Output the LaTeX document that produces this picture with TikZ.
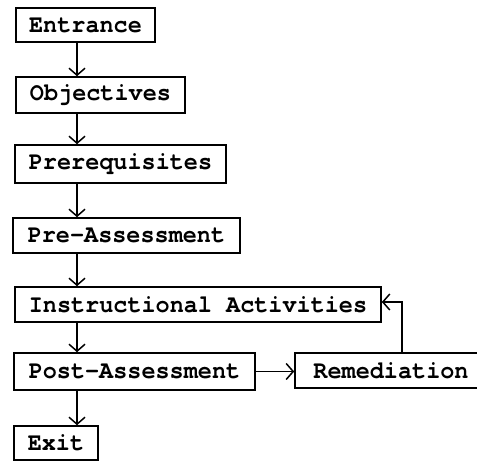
\documentclass[tikz,border=0pt]{standalone}
\usepackage{fontspec}
\setmonofont[FakeStretch=0.94]{TeX Gyre Cursor}
\usetikzlibrary{arrows.meta}
\tikzset{
  box/.style={draw, line width=1.6pt, inner sep=0pt, font=\fontsize{25}{28}\selectfont\ttfamily\bfseries},
  flow/.style={line width=1.5pt, -{Straight Barb[length=7pt, width=16pt, line width=1.5pt]}}
}
\begin{document}
\begin{tikzpicture}[x=1pt, y=-1pt]
  \clip (0,0) rectangle (477,462);
  \fill[white] (0,0) rectangle (477,462);
  % flow-chart steps (centres and sizes in points, y grows downward)
  \node[box, minimum width=139pt, minimum height=34pt] (entr) at (85.5,25) {Entrance};
  \node[box, minimum width=169pt, minimum height=36pt] (obj)  at (100.5,95) {Objectives};
  \node[box, minimum width=211pt, minimum height=38pt] (pre)  at (120.5,164) {Prerequisites};
  \node[box, minimum width=227pt, minimum height=35pt] (pas)  at (126.5,235.5) {Pre-Assessment};
  \node[box, minimum width=366pt, minimum height=35pt] (ins)  at (198,304.5) {Instructional Activities};
  \node[box, minimum width=241pt, minimum height=37pt] (post) at (134.5,371.5) {Post-Assessment};
  \node[box, minimum width=192pt, minimum height=35pt] (rem)  at (391,370.5) {Remediation};
  \node[box, minimum width=84pt,  minimum height=34pt] (exit) at (56,443) {Exit};
  % main spine of the chart
  \coordinate (spine) at (77,0);
  \draw[flow] (entr.south -| spine) -- (obj.north -| spine);
  \draw[flow] (obj.south -| spine)  -- (pre.north -| spine);
  \draw[flow] (pre.south -| spine)  -- (pas.north -| spine);
  \draw[flow] (pas.south -| spine)  -- (ins.north -| spine);
  \draw[flow] (ins.south -| spine)  -- (post.north -| spine);
  \draw[flow] (post.south -| spine) -- (exit.north -| spine);
  % remediation loop
  \draw[flow] (post.east) -- (rem.west |- post.east);
  \coordinate (up) at (402,0);
  \coordinate (back) at (0,302);
  \draw[flow] (rem.north -| up) -- (up |- back) -- (ins.east |- back);
\end{tikzpicture}
\end{document}
